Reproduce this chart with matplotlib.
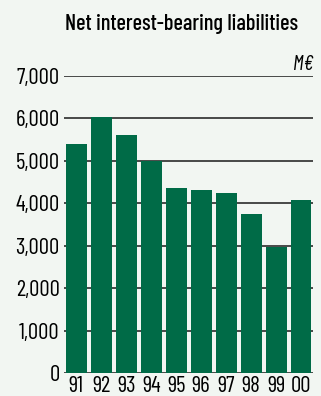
import matplotlib.pyplot as plt

years = ['91', '92', '93', '94', '95', '96', '97', '98', '99', '00']
liabilities = [5390, 6030, 5600, 4990, 4350, 4320, 4250, 3740, 2960, 4070]
y_ticks = [0, 1000, 2000, 3000, 4000, 5000, 6000, 7000]

BG = '#f2f6f2'
BAR = '#006b47'
FONT = ['Barlow Condensed', 'DejaVu Sans']

fig = plt.figure(figsize=(3.21, 3.96), dpi=100, facecolor=BG)
ax = fig.add_axes([0.199, 0.058, 0.776, 0.750])
ax.set_facecolor(BG)

# horizontal rules at every thousand, behind the bars
for v in y_ticks:
    ax.axhline(v, color='#1a1a1a', lw=1.1, zorder=1)

x = range(len(years))
ax.bar(x, liabilities, width=0.84, color=BAR, zorder=2)

ax.set_xlim(-0.5, 9.48)
ax.set_ylim(0, 7000)
ax.set_xticks(list(x))
ax.set_xticklabels(years, fontfamily=FONT, fontsize=16.5)
ax.set_yticks(y_ticks)
ax.set_yticklabels([f'{v:,}' for v in y_ticks], fontfamily=FONT, fontsize=16.5)
ax.tick_params(length=0, pad=3)
ax.tick_params(axis='x', pad=2)
for s in ax.spines.values():
    s.set_visible(False)

ax.text(1.0, 1.008, 'M€', transform=ax.transAxes, ha='right', va='bottom',
        fontfamily=FONT, fontsize=15, style='italic')
fig.text(0.565, 0.94, 'Net interest-bearing liabilities', ha='center', va='center',
         fontfamily=FONT, fontsize=16, fontweight='medium')

fig.savefig('out.png', dpi=100, facecolor=BG)
